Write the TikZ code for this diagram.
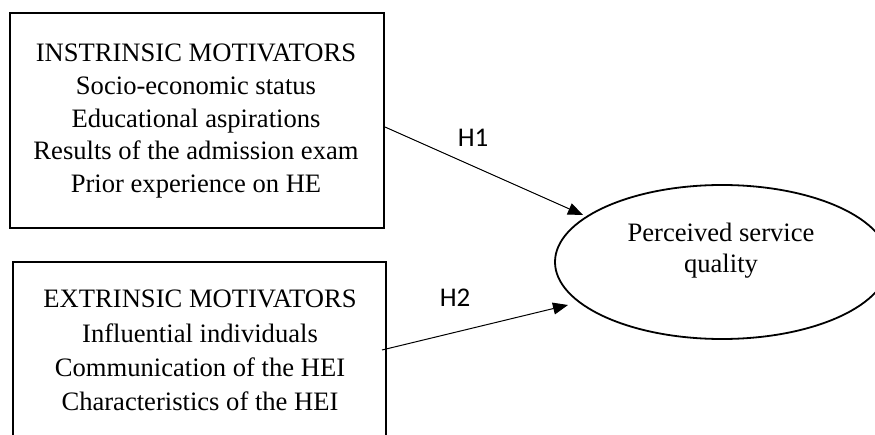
\documentclass[tikz,border=0pt]{standalone}
\usepackage{fontspec}
\setmainfont{Liberation Serif}
\newfontfamily\hfont{Carlito}
\usetikzlibrary{shapes.geometric,arrows.meta,calc}
\begin{document}
\begin{tikzpicture}[x=1pt,y=-1pt,
  boxstyle/.style={draw,line width=2pt,rectangle,inner sep=0pt},
  txt/.style={inner sep=0pt,anchor=base,font=\fontsize{26.6}{31}\selectfont},
  hlab/.style={inner sep=0pt,anchor=base,font=\hfont\fontsize{27}{31}\selectfont},
  conn/.style={line width=1pt,-{Triangle[length=15pt,width=12pt]}}]
\useasboundingbox (0,0) rectangle (875,435);
\clip (0,0) rectangle (875,435);
\fill[white] (0,0) rectangle (875,435);
% boxes
\node[boxstyle,minimum width=374pt,minimum height=215pt] (box1) at (197,120.5) {};
\node[boxstyle,minimum width=373pt,minimum height=183pt] (box2) at (199.5,353.5) {};
% ellipse
\coordinate (pq) at (722,262);
\draw[line width=1.8pt] (pq) ellipse [x radius=167, y radius=77];
\coordinate (e1) at (583,215);
\coordinate (e2) at (568,305);
% texts box 1
\node[txt] (a1) at (196,62) {INSTRINSIC MOTIVATORS};
\node[txt] (a2) at (196,94.7) {Socio-economic status};
\node[txt] (a3) at (196,127.3) {Educational aspirations};
\node[txt] (a4) at (196,160) {Results of the admission exam};
\node[txt] (a5) at (196,192.7) {Prior experience on HE};
% texts box 2
\node[txt] (b1) at (200,308) {EXTRINSIC MOTIVATORS};
\node[txt] (b2) at (200,342) {Influential individuals};
\node[txt] (b3) at (200,376) {Communication of the HEI};
\node[txt] (b4) at (200,410) {Characteristics of the HEI};
% ellipse text
\node[txt] (p1) at (721,242) {Perceived service};
\node[txt] (p2) at (721,273) {quality};
% labels
\node[hlab] (h1) at (473,147) {H1};
\node[hlab] (h2) at (455,307) {H2};
% connectors
\draw[conn] ($(box1.east)+(0,6.5)$) -- (e1);
\draw[conn] ($(box2.east)+(-5,-3.5)$) -- (e2);
\end{tikzpicture}
\end{document}
